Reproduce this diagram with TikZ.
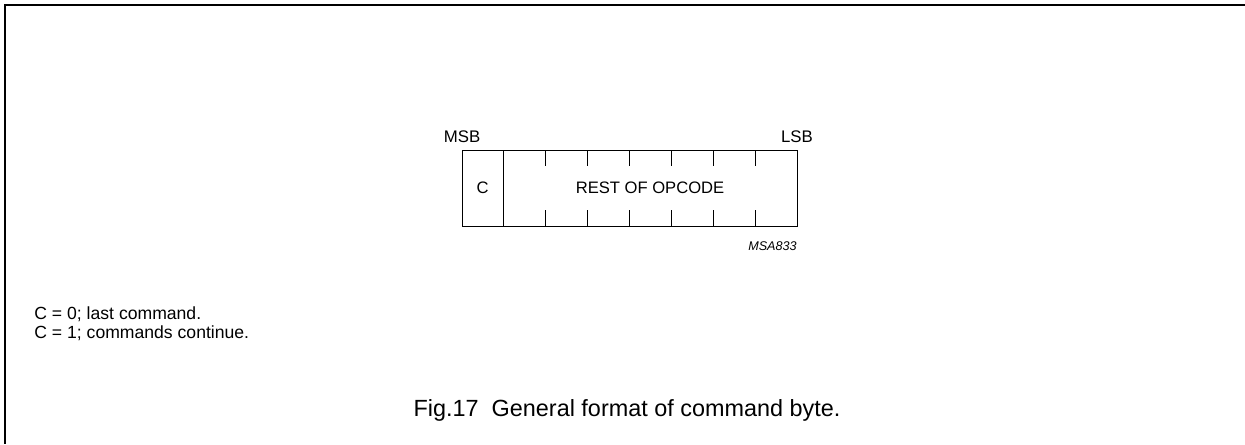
\documentclass[tikz,border=0pt]{standalone}
\usepackage{fontspec}
\setmainfont{Liberation Sans}
\usetikzlibrary{positioning}
\tikzstyle{Field} = [draw, rectangle, line width=0.5pt, minimum height=38pt, inner sep=0pt, outer sep=0pt, font=\fontsize{8.3}{10}\selectfont]
\tikzstyle{Bit} = [inner sep=0pt, font=\fontsize{8.4}{10}\selectfont]
\tikzstyle{Tag} = [inner sep=0pt, font=\fontsize{6.3}{7}\selectfont\itshape]
\tikzstyle{Note} = [inner sep=0pt, font=\fontsize{8.8}{10}\selectfont]
\tikzstyle{Caption} = [inner sep=0pt, font=\fontsize{11.7}{14}\selectfont]

\begin{document}
\begin{tikzpicture}[x=0.5pt, y=-0.5pt]
    \useasboundingbox (0,0) rectangle (1245,444);
    \draw[line width=1pt] (1245,5) -- (5,5) -- (5,444);
    \node[Field, minimum width=20.5pt] (cbit) at (482.5,188) {C};
    \node[Field, minimum width=147pt] (rest) [right=0pt of cbit] {REST OF OPCODE};
    \foreach \k in {1,...,6} {
        \draw[line width=0.5pt] ([xshift=\k*21pt]rest.north west) -- ++(0,16);
        \draw[line width=0.5pt] ([xshift=\k*21pt]rest.south west) -- ++(0,-16);
    }
    \node[Bit, anchor=base] (msb) at ([yshift=4pt]cbit.north west) {MSB};
    \node[Bit, anchor=base] (lsb) at ([yshift=4pt]rest.north east) {LSB};
    \node[Tag, anchor=base east] (code) at ([yshift=-12pt]rest.south east) {MSA833};
    \node[Note, anchor=base west] (last) at (34,319) {C = 0; last command.};
    \node[Note, anchor=base west] (cont) at ([yshift=-9.5pt]last.base west) {C = 1; commands continue.};
    \node[Caption, anchor=base] (caption) at (627,416.7) {Fig.17\hspace{0.28em} General format of command byte.};
\end{tikzpicture}
\end{document}
